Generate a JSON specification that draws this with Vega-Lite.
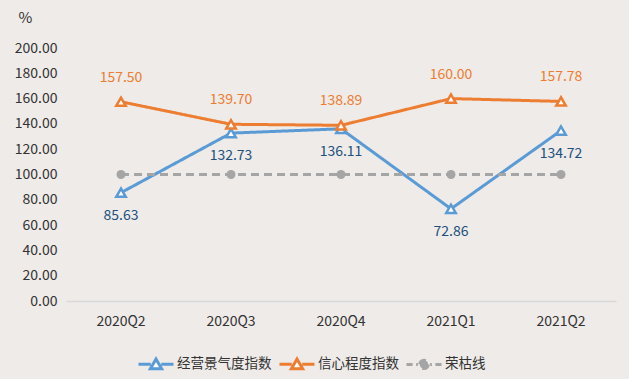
{
  "$schema": "https://vega.github.io/schema/vega-lite/v6.json",
  "width": 550,
  "height": 253,
  "autosize": "none",
  "padding": {"left": 66, "top": 48, "right": 13, "bottom": 78},
  "background": "#eeebe8",
  "config": {
    "view": {"stroke": null},
    "font": "Noto Sans CJK SC",
    "text": {"font": "Noto Sans CJK SC"}
  },
  "data": {
    "values": [
      {"quarter": "2020Q2", "series": "经营景气度指数", "value": 85.63},
      {"quarter": "2020Q3", "series": "经营景气度指数", "value": 132.73},
      {"quarter": "2020Q4", "series": "经营景气度指数", "value": 136.11},
      {"quarter": "2021Q1", "series": "经营景气度指数", "value": 72.86},
      {"quarter": "2021Q2", "series": "经营景气度指数", "value": 134.72},
      {"quarter": "2020Q2", "series": "信心程度指数", "value": 157.5},
      {"quarter": "2020Q3", "series": "信心程度指数", "value": 139.7},
      {"quarter": "2020Q4", "series": "信心程度指数", "value": 138.89},
      {"quarter": "2021Q1", "series": "信心程度指数", "value": 160.0},
      {"quarter": "2021Q2", "series": "信心程度指数", "value": 157.78},
      {"quarter": "2020Q2", "series": "荣枯线", "value": 100},
      {"quarter": "2020Q3", "series": "荣枯线", "value": 100},
      {"quarter": "2020Q4", "series": "荣枯线", "value": 100},
      {"quarter": "2021Q1", "series": "荣枯线", "value": 100},
      {"quarter": "2021Q2", "series": "荣枯线", "value": 100}
    ]
  },
  "encoding": {
    "x": {
      "field": "quarter", "type": "ordinal", "sort": null,
      "scale": {"type": "band", "paddingInner": 0, "paddingOuter": 0},
      "axis": {
        "title": null, "labelAngle": 0, "ticks": false, "domainColor": "#d9d9d9", "domainWidth": 1.5,
        "labelFontSize": 14, "labelColor": "#333333", "labelPadding": 13, "labelFont": "Noto Sans CJK SC"
      }
    },
    "y": {
      "field": "value", "type": "quantitative",
      "scale": {"domain": [0, 200], "nice": false},
      "axis": {
        "values": [0, 20, 40, 60, 80, 100, 120, 140, 160, 180, 200],
        "format": ".2f", "grid": false, "domain": false, "ticks": false,
        "labelFontSize": 14, "labelColor": "#333333", "labelPadding": 9, "labelFont": "Noto Sans CJK SC",
        "title": "%", "titleAngle": 0, "titleX": -41, "titleY": -23, "titleAlign": "center",
        "titleFontSize": 15, "titleFontWeight": "normal", "titleColor": "#333333", "titleFont": "Noto Sans CJK SC"
      }
    }
  },
  "layer": [
    {
      "mark": {"type": "line", "strokeWidth": 3},
      "encoding": {
        "color": {
          "field": "series", "type": "nominal",
          "scale": {"domain": ["经营景气度指数", "信心程度指数", "荣枯线"], "range": ["#5b9bd5", "#ed7d31", "#a5a5a5"]},
          "legend": {
            "title": null, "orient": "none", "legendX": 71, "legendY": 297, "direction": "horizontal",
            "labelFontSize": 13.5, "labelColor": "#333333", "labelFont": "Noto Sans CJK SC",
            "symbolSize": 1225, "symbolStrokeWidth": 3, "columnPadding": 1, "labelOffset": 2,
            "encode": {
              "symbols": {
                "update": {
                  "shape": {"signal": "datum.value == '荣枯线' ? 'M-1,0H-0.65M-0.45,0H-0.35M0.35,0H0.45M0.65,0H1M0.24,0A0.24,0.24 0 1,1 -0.24,0A0.24,0.24 0 1,1 0.24,0Z' : 'M-1,0H-0.3M0.3,0H1M0,-0.3L0.32,0.25L-0.32,0.25Z'"},
                  "fill": {"signal": "datum.value == '荣枯线' ? '#a5a5a5' : '#ffffff'"},
                  "strokeDash": {"value": [1, 0]},
                  "opacity": {"value": 1}
                }
              }
            }
          }
        },
        "strokeDash": {
          "field": "series", "type": "nominal",
          "scale": {"domain": ["经营景气度指数", "信心程度指数", "荣枯线"], "range": [[1, 0], [1, 0], [8, 5]]},
          "legend": null
        }
      }
    },
    {
      "transform": [{"filter": "datum.series != '荣枯线'"}],
      "mark": {"type": "point", "shape": "triangle-up", "filled": true, "fill": "#ffffff", "strokeWidth": 2.5, "size": 90, "opacity": 1},
      "encoding": {
        "stroke": {
          "field": "series", "type": "nominal",
          "scale": {"domain": ["经营景气度指数", "信心程度指数", "荣枯线"], "range": ["#5b9bd5", "#ed7d31", "#a5a5a5"]},
          "legend": null
        }
      }
    },
    {
      "transform": [{"filter": "datum.series == '荣枯线'"}],
      "mark": {"type": "point", "shape": "circle", "filled": true, "color": "#a5a5a5", "size": 80, "opacity": 1}
    },
    {
      "transform": [{"filter": "datum.series == '信心程度指数'"}],
      "mark": {"type": "text", "dy": -24, "fontSize": 14, "color": "#ed7d31", "font": "Noto Sans CJK SC"},
      "encoding": {"text": {"field": "value", "type": "quantitative", "format": ".2f"}}
    },
    {
      "transform": [{"filter": "datum.series == '经营景气度指数'"}],
      "mark": {"type": "text", "dy": 23, "fontSize": 14, "color": "#22507e", "font": "Noto Sans CJK SC"},
      "encoding": {"text": {"field": "value", "type": "quantitative", "format": ".2f"}}
    }
  ]
}
